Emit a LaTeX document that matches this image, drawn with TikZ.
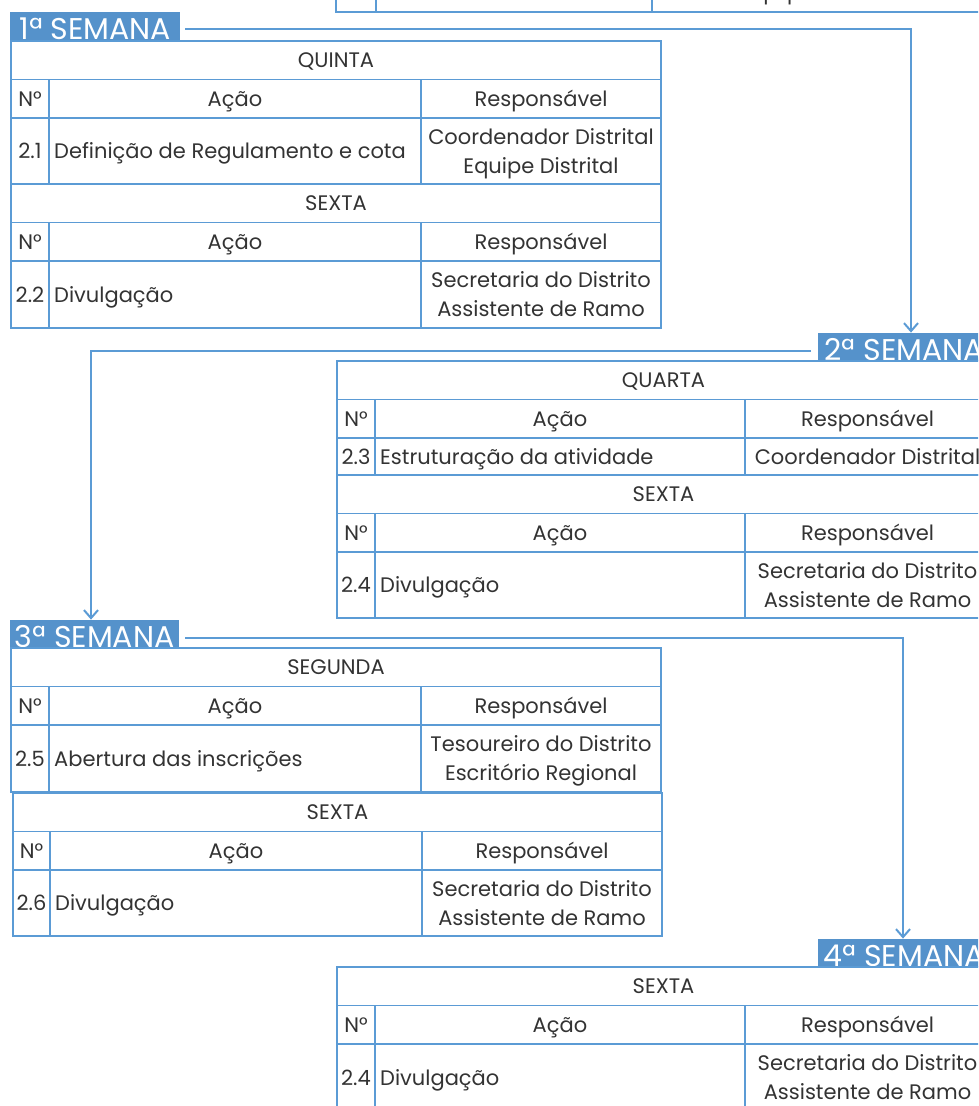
\documentclass[tikz,border=0pt]{standalone}
\usepackage{fontspec}
\setmainfont{Poppins}
\usetikzlibrary{arrows.meta}

\definecolor{rule}{HTML}{5B9BD5}
\definecolor{band}{HTML}{5592CB}
\definecolor{ink}{HTML}{333333}

\tikzset{
  grid/.style={draw=rule, line width=1.6pt},
  cell/.style={text=ink, font=\fontsize{21}{25}\selectfont, inner sep=0pt, anchor=base},
  week/.style={fill=band, text=white, font=\fontsize{30}{30}\selectfont,
    inner sep=0pt, text height=28pt, text depth=0pt, minimum width=#1},
  link/.style={draw=rule, line width=2pt, -{Straight Barb[length=8pt,width=14pt]}},
}

% column positions of the table drawn next
\newcommand\setcols[4]{\def\cA{#1}\def\cB{#2}\def\cC{#3}\def\cD{#4}}

% one day block: #1 name, #2 top, #3 data row height, #4 day,
% #5 number, #6 action, #7/#8 responsible (first/second line)
\newcommand\daytable[8]{%
  \pgfmathsetmacro\rA{#2}%
  \pgfmathsetmacro\rB{#2+38.5}%
  \pgfmathsetmacro\rC{#2+77}%
  \pgfmathsetmacro\rD{#2+77+#3}%
  \pgfmathsetmacro\rM{(\rC+\rD)/2}%
  \draw[grid] (\cA,\rA) rectangle (\cD,\rD)
     (\cA,\rB) -- (\cD,\rB) (\cA,\rC) -- (\cD,\rC)
     (\cB,\rB) -- (\cB,\rD) (\cC,\rB) -- (\cC,\rD);
  \node[cell] (#1-day) at ({(\cA+\cD)/2},{(\rA+\rB)/2+7.5}) {#4};
  \node[cell] (#1-nh) at ({(\cA+\cB)/2},{(\rB+\rC)/2+7.5}) {N°};
  \node[cell] (#1-ah) at ({(\cB+\cC)/2},{(\rB+\rC)/2+7.5}) {Ação};
  \node[cell] (#1-rh) at ({(\cC+\cD)/2},{(\rB+\rC)/2+7.5}) {Responsável};
  \node[cell] (#1-n) at ({(\cA+\cB)/2},{\rM+7.5}) {#5};
  \node[cell, anchor=base west] (#1-a) at ({\cB+5},{\rM+7.5}) {#6};
  \def\secondline{#8}%
  \ifx\secondline\empty
    \node[cell] (#1-r) at ({(\cC+\cD)/2},{\rM+7.5}) {#7};
  \else
    \node[cell] (#1-r) at ({(\cC+\cD)/2},{\rM-7}) {#7};
    \node[cell] (#1-r2) at ({(\cC+\cD)/2},{\rM+22}) {#8};
  \fi
}

\begin{document}
\begin{tikzpicture}[x=1pt, y=-1pt]
\useasboundingbox (0,0) rectangle (978,1106);
\clip (0,0) rectangle (978,1106);

% end of the previous table
\draw[grid] (336,-10) -- (336,12) -- (990,12)
  (376,-10) -- (376,12) (652,-10) -- (652,12);
\node[cell] (t0-r2) at (821,-1) {Equipe Distrital};

% week 1
\node[week=170pt, anchor=south west] (w1) at (10,40) {1ª SEMANA};
\setcols{11}{49}{421}{661}
\daytable{t1a}{41}{66}{QUINTA}{2.1}{Definição de Regulamento e cota}{Coordenador Distrital}{Equipe Distrital}
\daytable{t1b}{184}{67}{SEXTA}{2.2}{Divulgação}{Secretaria do Distrito}{Assistente de Ramo}

% week 2
\node[week=172pt, anchor=south west] (w2) at (818,361) {2ª SEMANA};
\setcols{337}{375}{745}{990}
\daytable{t2a}{361}{37}{QUARTA}{2.3}{Estruturação da atividade}{Coordenador Distrital}{}
\daytable{t2b}{475}{66}{SEXTA}{2.4}{Divulgação}{Secretaria do Distrito}{Assistente de Ramo}

% week 3
\node[week=169pt, anchor=south west] (w3) at (10,648) {3ª SEMANA};
\setcols{11}{49}{421}{661}
\daytable{t3a}{648}{67}{SEGUNDA}{2.5}{Abertura das inscrições}{Tesoureiro do Distrito}{Escritório Regional}
\setcols{13}{50}{422}{662}
\daytable{t3b}{793}{66}{SEXTA}{2.6}{Divulgação}{Secretaria do Distrito}{Assistente de Ramo}

% week 4
\node[week=172pt, anchor=south west] (w4) at (818,967) {4ª SEMANA};
\setcols{337}{375}{745}{990}
\daytable{t4}{967}{67}{SEXTA}{2.4}{Divulgação}{Secretaria do Distrito}{Assistente de Ramo}

% links between the weeks
\coordinate (c1) at (185,29);
\coordinate (c2) at (811,351);
\coordinate (c3) at (185,638);
\draw[link] (c1) -| ([xshift=93pt]w2.north west);
\draw[link] (c2) -| ([xshift=81pt]w3.north west);
\draw[link] (c3) -| ([xshift=85pt]w4.north west);
\end{tikzpicture}
\end{document}
